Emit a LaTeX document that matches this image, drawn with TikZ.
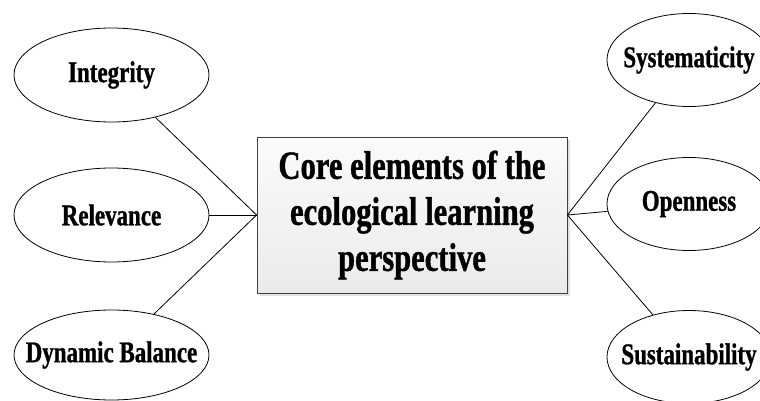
\documentclass[tikz,border=0pt]{standalone}
\usepackage{fontspec}
\setmainfont{Liberation Serif}[FakeStretch=0.765,BoldFeatures={FakeBold=1}]
\usetikzlibrary{shapes.geometric, shadows}

\newcommand{\elemname}[1]{\makebox[0pt]{#1}}

\begin{document}
\begin{tikzpicture}[x=1pt,y=-1pt,
    elem/.style={ellipse,draw,line width=0.8pt,inner sep=0pt,
        font=\fontsize{30}{36}\selectfont\bfseries},
    core/.style={draw=black!75,line width=0.8pt,minimum width=310pt,minimum height=156pt,
        top color=gray!3,bottom color=gray!16,align=center,
        drop shadow={shadow xshift=3pt,shadow yshift=-3pt,fill=gray!45},
        font=\fontsize{40}{46}\selectfont\bfseries},
    link/.style={line width=0.8pt}]
    \useasboundingbox (0,0) rectangle (760,401);
    \node[core] (core) at (412,215) {Core elements of the\\ecological learning\\perspective};
    \node[elem,minimum width=195pt,minimum height=94pt] (integrity) at (111.5,75) {\elemname{Integrity}};
    \node[elem,minimum width=195pt,minimum height=94pt] (relevance) at (111.5,215) {\elemname{Relevance}};
    \node[elem,minimum width=195pt,minimum height=90pt] (balance) at (111.5,355) {\elemname{Dynamic Balance}};
    \node[elem,minimum width=164pt,minimum height=93pt] (system) at (689,60) {\elemname{Systematicity}};
    \node[elem,minimum width=164pt,minimum height=93pt] (openness) at (689,204) {\elemname{Openness}};
    \node[elem,minimum width=164pt,minimum height=93pt] (sustain) at (689,357) {\elemname{Sustainability}};
    \draw[link] (core.west) -- (integrity);
    \draw[link] (core.west) -- (relevance);
    \draw[link] (core.west) -- (balance);
    \draw[link] (core.east) -- (system);
    \draw[link] (core.east) -- (openness);
    \draw[link] (core.east) -- (sustain);
\end{tikzpicture}
\end{document}
